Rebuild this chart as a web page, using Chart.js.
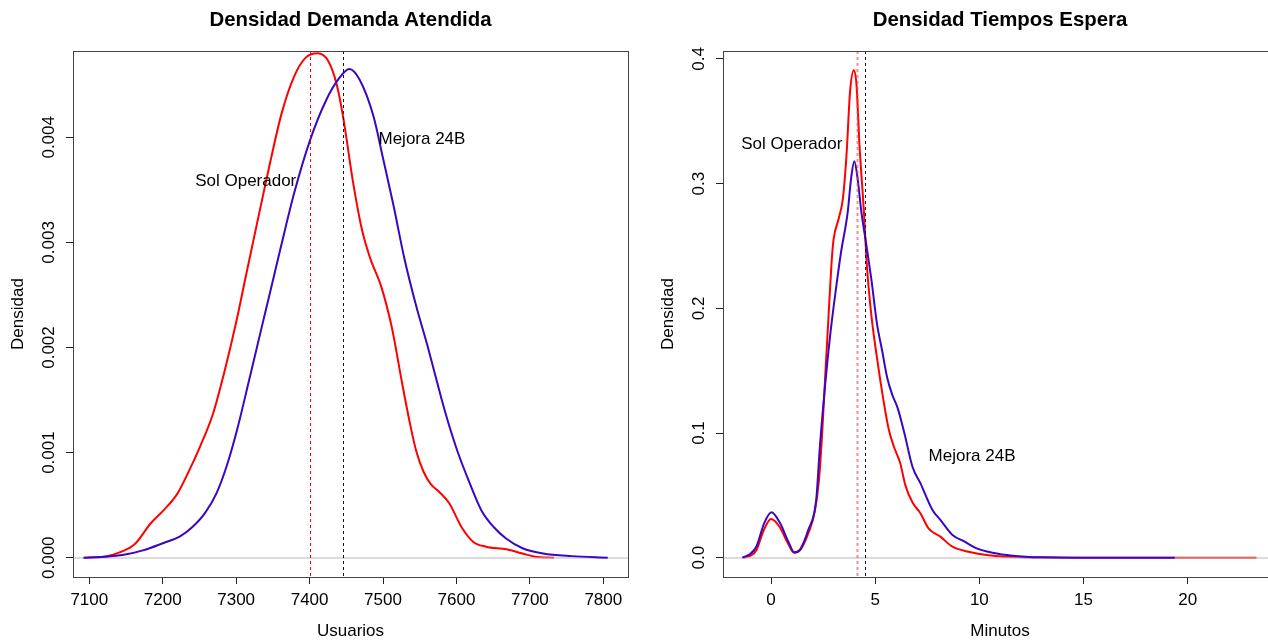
<!DOCTYPE html>
<html>
<head>
<meta charset="utf-8">
<script src="https://cdn.jsdelivr.net/npm/chart.js@4.4.1/dist/chart.umd.min.js"></script>
<style>
body{margin:0;background:#fff;overflow:hidden}
#wrap{position:relative;width:1268px;height:640px;overflow:hidden;background:#fff}
canvas{position:absolute;top:0}
#demanda{left:0}
#espera{left:640px}
</style>
</head>
<body>
<div id="wrap">
<canvas id="demanda" width="640" height="640"></canvas>
<canvas id="espera" width="660" height="640"></canvas>
</div>
<script>
// Densidad Demanda Atendida
const usuariosSol = [7093, 7120, 7145, 7162, 7184, 7201, 7220, 7234, 7251, 7268, 7284, 7300, 7312, 7329, 7345, 7362, 7379, 7395, 7411, 7425, 7437, 7446, 7459, 7471, 7482, 7498, 7512, 7526, 7536, 7545, 7555, 7565, 7576, 7590, 7607, 7623, 7640, 7668, 7690, 7707, 7733]
const densSol = [0, 0.00001, 0.00006, 0.00013, 0.00033, 0.00045, 0.00061, 0.0008, 0.00106, 0.00136, 0.00177, 0.00224, 0.00264, 0.0032, 0.00372, 0.00423, 0.00458, 0.00476, 0.0048, 0.00473, 0.0045, 0.00418, 0.00358, 0.00313, 0.00286, 0.00257, 0.00219, 0.00166, 0.0013, 0.00102, 0.00082, 0.0007, 0.00063, 0.00052, 0.00029, 0.00015, 0.000105, 0.00008, 0.00004, 0.00001, 0]
const usuariosMejora = [7092, 7120, 7145, 7173, 7201, 7223, 7240, 7257, 7273, 7287, 7301, 7318, 7334, 7345, 7361, 7379, 7401, 7423, 7440, 7454, 7468, 7487, 7500, 7514, 7529, 7545, 7560, 7568, 7584, 7601, 7618, 7634, 7651, 7668, 7690, 7718, 7757, 7806]
const densMejora = [0, 0.00001, 0.000025, 0.00007, 0.00014, 0.0002, 0.00029, 0.00042, 0.00061, 0.00087, 0.00121, 0.0017, 0.00217, 0.00249, 0.00296, 0.00347, 0.00398, 0.00436, 0.00456, 0.00465, 0.00455, 0.0042, 0.0038, 0.00336, 0.00285, 0.0024, 0.00203, 0.00182, 0.0014, 0.00102, 0.00071, 0.00045, 0.00029, 0.00018, 0.00009, 0.00004, 0.000015, 0]
const usuariosTicks = [7100, 7200, 7300, 7400, 7500, 7600, 7700, 7800]
const densDemandaTicks = [0, 0.001, 0.002, 0.003, 0.004]
const mediasDemanda = [7400, 7445]

// Densidad Tiempos Espera
const minutosSol = [-1.33, -1.0, -0.7, -0.35, 0.0, 0.4, 0.8, 1.1, 1.4, 1.8, 2.1, 2.3, 2.45, 2.6, 2.75, 2.9, 3.0, 3.25, 3.45, 3.62, 3.8, 3.98, 4.1, 4.25, 4.45, 4.6, 4.8, 5.08, 5.4, 5.65, 5.9, 6.2, 6.45, 6.8, 7.17, 7.56, 8.13, 8.71, 9.48, 10.44, 11.98, 14, 17, 20, 23.3]
const densEsperaSol = [0, 0.0015, 0.006, 0.022, 0.031, 0.025, 0.012, 0.004, 0.006, 0.02, 0.037, 0.062, 0.098, 0.145, 0.19, 0.235, 0.255, 0.272, 0.288, 0.322, 0.375, 0.391, 0.38, 0.33, 0.28, 0.235, 0.197, 0.161, 0.126, 0.103, 0.089, 0.076, 0.058, 0.044, 0.0357, 0.0236, 0.0169, 0.0088, 0.0048, 0.002, 0.0003, 0.00005, 0, 0, 0]
const minutosMejora = [-1.38, -1.0, -0.7, -0.33, 0.02, 0.44, 0.83, 1.12, 1.4, 1.79, 2.17, 2.35, 2.6, 2.85, 3.1, 3.35, 3.68, 3.85, 4.0, 4.15, 4.34, 4.59, 4.83, 5.08, 5.33, 5.58, 5.83, 6.08, 6.4, 6.79, 7.17, 7.75, 8.13, 8.71, 9.29, 9.87, 10.63, 11.6, 12.94, 15, 17, 19.38]
const densEsperaMejora = [0, 0.003, 0.009, 0.0276, 0.0365, 0.0276, 0.0129, 0.0043, 0.0067, 0.0223, 0.0464, 0.09, 0.1387, 0.18, 0.2134, 0.2438, 0.277, 0.305, 0.318, 0.305, 0.277, 0.2493, 0.2216, 0.1884, 0.1664, 0.1442, 0.1303, 0.12, 0.1, 0.073, 0.0598, 0.0383, 0.0303, 0.0182, 0.0129, 0.0075, 0.004, 0.0016, 0.0003, 0.00003, 0, 0]
const minutosTicks = [0, 5, 10, 15, 20]
const densEsperaTicks = [0, 0.1, 0.2, 0.3, 0.4]
const mediasEspera = [4.11, 4.5]

const FONT = "'Liberation Sans', Arial, Helvetica, sans-serif"
const RED = "#ff0000"
const BLUE = "#3a06c4"

const pts = (xs, ys) => xs.map((x, i) => ({x: x, y: ys[i]}))

const extras = {
id: "extras",
afterDatasetDraw(chart, args) {
// R dibuja la linea gris del cero sobre la primera curva
if (args.index !== 1) return
const ctx = chart.ctx
const a = chart.chartArea
const y0 = Math.round(chart.scales.y.getPixelForValue(0))
ctx.save()
ctx.strokeStyle = "rgba(190,190,190,0.55)"
ctx.lineWidth = 2
ctx.beginPath()
ctx.moveTo(a.left, y0)
ctx.lineTo(a.right, y0)
ctx.stroke()
ctx.restore()
},
afterDraw(chart, args, o) {
const ctx = chart.ctx
const a = chart.chartArea
const sx = chart.scales.x
const sy = chart.scales.y
ctx.save()

o.medias.forEach((m, i) => {
const px = Math.round(sx.getPixelForValue(m)) + 0.5
ctx.strokeStyle = o.mediaColors[i]
ctx.lineWidth = o.mediaWidths[i]
ctx.setLineDash([3, 3])
ctx.beginPath()
ctx.moveTo(px, a.top)
ctx.lineTo(px, a.bottom)
ctx.stroke()
})
ctx.setLineDash([])

ctx.strokeStyle = "#444"
ctx.lineWidth = 1
ctx.strokeRect(a.left + 0.5, a.top + 0.5, a.right - a.left, a.bottom - a.top)

ctx.fillStyle = "#000"
ctx.textAlign = "center"
ctx.textBaseline = "middle"
ctx.font = "17px " + FONT
o.etiquetas.forEach(e => {
ctx.fillText(e.text, sx.getPixelForValue(e.x), sy.getPixelForValue(e.y))
})

ctx.font = "bold 20.4px " + FONT
ctx.fillText(o.titulo, (a.left + a.right) / 2, 20)
ctx.restore()
}
}

function densityChart(id, cfg) {
const font = {family: FONT, size: 17}
return new Chart(document.getElementById(id), {
type: "line",
data: {
datasets: [
{data: cfg.mejora, borderColor: BLUE},
{data: cfg.sol, borderColor: RED}
]
},
options: {
responsive: false,
animation: false,
layout: {padding: {top: 51, left: 0, right: cfg.padRight, bottom: 0}},
elements: {
point: {radius: 0},
line: {borderWidth: 2, cubicInterpolationMode: "monotone", fill: false}
},
plugins: {
legend: {display: false},
tooltip: {enabled: false},
extras: cfg.extras
},
scales: {
x: {
type: "linear",
min: cfg.xMin,
max: cfg.xMax,
afterBuildTicks: s => { s.ticks = cfg.xTicks.map(v => ({value: v})) },
afterFit: s => { s.height = 63 },
grid: {drawOnChartArea: false, drawTicks: true, tickLength: 7, color: "#222"},
border: {display: true, color: "#000"},
ticks: {font: font, color: "#000", padding: 6, maxRotation: 0, autoSkip: false, callback: v => String(v)},
title: {display: true, text: cfg.xTitle, font: font, color: "#000", padding: {top: 0, bottom: -2}}
},
y: {
type: "linear",
min: cfg.yMin,
max: cfg.yMax,
afterBuildTicks: s => { s.ticks = cfg.yTicks.map(v => ({value: v})) },
afterFit: s => { s.width = cfg.yWidth },
grid: {drawOnChartArea: false, drawTicks: true, tickLength: 7, color: "#222"},
border: {display: true, color: "#000"},
ticks: {font: font, color: "#000", minRotation: 90, maxRotation: 90, crossAlign: "center", padding: cfg.yTickPad, autoSkip: false, callback: v => v.toFixed(cfg.decimals)},
title: {display: true, text: "Densidad", font: font, color: "#000", padding: {top: cfg.yTitlePad, bottom: 0}}
}
}
},
plugins: [extras]
})
}

densityChart("demanda", {
sol: pts(usuariosSol, densSol),
mejora: pts(usuariosMejora, densMejora),
xMin: 7077.8, xMax: 7833.6,
yMin: -0.0001836, yMax: 0.004821,
xTicks: usuariosTicks,
yTicks: densDemandaTicks,
decimals: 3,
xTitle: "Usuarios",
yWidth: 73,
padRight: 12,
yTickPad: -4.75,
yTitlePad: 8.5,
extras: {
titulo: "Densidad Demanda Atendida",
medias: mediasDemanda,
mediaColors: [RED, "#10102a"],
mediaWidths: [1, 1],
etiquetas: [
{text: "Sol Operador", x: 7313, y: 0.00358},
{text: "Mejora 24B", x: 7553, y: 0.00398}
]
}
})

densityChart("espera", {
sol: pts(minutosSol, densEsperaSol),
mejora: pts(minutosMejora, densEsperaMejora),
xMin: -2.304, xMax: 24.286,
yMin: -0.01548, yMax: 0.4064,
xTicks: minutosTicks,
yTicks: densEsperaTicks,
decimals: 1,
xTitle: "Minutos",
yWidth: 83,
padRight: 23,
yTickPad: 5.2,
yTitlePad: 18.4,
extras: {
titulo: "Densidad Tiempos Espera",
medias: mediasEspera,
mediaColors: ["rgba(255,60,60,0.6)", "#10102a"],
mediaWidths: [2, 1],
etiquetas: [
{text: "Sol Operador", x: 1.0, y: 0.3316},
{text: "Mejora 24B", x: 9.65, y: 0.0816}
]
}
})
</script>
</body>
</html>
